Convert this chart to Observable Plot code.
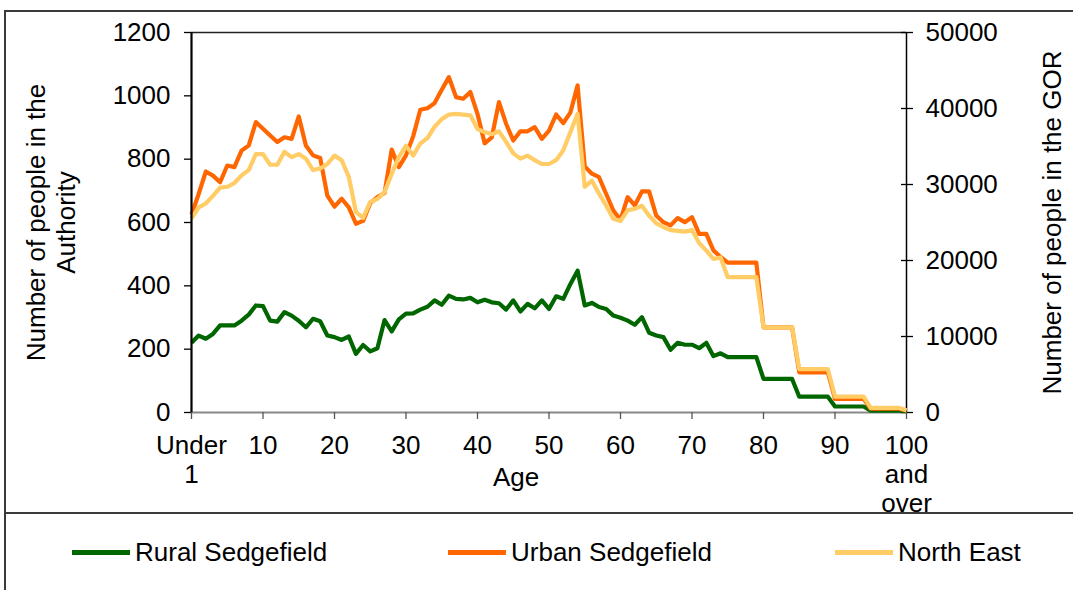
<!DOCTYPE html>
<html>
<head>
<meta charset="utf-8">
<script src="https://cdn.jsdelivr.net/npm/d3@7"></script>
<script src="https://cdn.jsdelivr.net/npm/@observablehq/plot@0.6"></script>
<style>
  html, body { margin: 0; padding: 0; background: #fff; width: 1073px; height: 590px; overflow: hidden; }
  body { font-family: "Liberation Sans", Arial, sans-serif; position: relative; }
  #chart { position: absolute; left: 0; top: 0; }
  .box { position: absolute; left: 4px; top: 10px; width: 1100px; height: 600px; border-top: 2px solid #3a3a3a; border-left: 2px solid #3a3a3a; }
  .sep { position: absolute; left: 4px; top: 512px; width: 1100px; height: 2px; background: #3a3a3a; }
  .leg { position: absolute; top: 537px; font-size: 26px; color: #000; white-space: nowrap; display: flex; align-items: center; }
  .leg span.sw { display: inline-block; width: 58px; height: 5px; margin-right: 5px; }
</style>
</head>
<body>
<div class="box"></div>
<div class="sep"></div>
<div id="chart"></div>
<div id="legend"></div>
<script>
// Ages 0..100
const ages = d3.range(0, 101);
// Rural Sedgefield (left axis, number of people in the Authority)
const rural = [220,243,233,248,275,275,275,290,309,338,336,290,287,317,306,290,269,296,288,243,
  238,229,240,185,213,193,203,292,256,294,312,313,325,334,354,340,369,359,357,362,
  348,356,348,345,325,354,319,343,329,354,327,367,359,406,448,338,346,333,327,306,
  299,290,277,301,252,243,238,198,220,214,214,203,220,178,187,175,175,175,175,175,
  106,106,106,106,106,50,50,50,50,50,19,19,19,19,19,6,6,6,6,6,4];
// Urban Sedgefield (left axis)
const urban = [625,690,761,748,727,780,775,827,843,917,896,875,854,869,864,935,843,812,804,685,
  650,675,648,596,605,661,680,693,830,775,812,872,956,961,977,1019,1059,996,991,1012,
  943,850,869,980,912,859,888,888,901,864,890,941,914,948,1033,777,754,743,690,638,
  608,680,654,698,698,622,601,591,614,601,617,564,564,512,491,473,473,473,473,473,
  269,269,269,269,269,127,127,127,127,127,43,43,43,43,43,12,12,12,12,12,6];
// North East (right axis, number of people in the GOR)
const northEast = [25500,27000,27500,28500,29600,29700,30200,31200,31900,34000,34000,32600,32600,34300,33600,34000,33400,31900,32100,32700,
  33800,33200,31000,26400,25600,27700,28100,29000,31400,33600,35100,33800,35400,36100,37600,38600,39200,39300,39200,39100,
  37300,36900,36600,37000,35600,34100,33400,33800,33200,32700,32700,33200,34500,36900,39300,29700,30500,28800,27200,25500,
  25200,26600,26800,27200,25900,24900,24400,24000,23900,23800,24000,22300,21300,20200,20400,17800,17800,17800,17800,17800,
  11200,11200,11200,11200,11200,5700,5700,5700,5700,5700,2100,2100,2100,2100,2100,600,600,600,600,600,300];

const leftTicks = [0, 200, 400, 600, 800, 1000, 1200];
const rightTicks = [0, 10000, 20000, 30000, 40000, 50000];
const xTicks = [0, 10, 20, 30, 40, 50, 60, 70, 80, 90, 100];
const xTickLabels = ["Under\n1", "10", "20", "30", "40", "50", "60", "70", "80", "90", "100\nand\nover"];

const seriesNames = ["Rural Sedgefield", "Urban Sedgefield", "North East"];
const seriesColors = ["#006600", "#FF6600", "#FFCC66"];

const leftMax = 1200, rightMax = 50000;
const toLeft = v => v * leftMax / rightMax;

const rows = [];
ages.forEach((a, i) => {
  rows.push({age: a, value: rural[i], series: seriesNames[0]});
  rows.push({age: a, value: urban[i], series: seriesNames[1]});
  rows.push({age: a, value: toLeft(northEast[i]), series: seriesNames[2]});
});

const chart = Plot.plot({
  width: 1073,
  height: 513,
  marginLeft: 191,
  marginRight: 167,
  marginTop: 32,
  marginBottom: 101,
  style: {fontFamily: "'Liberation Sans', Arial, sans-serif", fontSize: "26px", background: "transparent", overflow: "visible", color: "#000"},
  x: {domain: [0, 100]},
  y: {domain: [0, leftMax]},
  color: {domain: seriesNames, range: seriesColors},
  marks: [
    Plot.ruleY([leftMax], {stroke: "#222", strokeWidth: 1.5}),
    Plot.ruleY([0], {stroke: "#888", strokeWidth: 2}),
    Plot.ruleX([100], {stroke: "#000", strokeWidth: 1.5}),
    Plot.axisY(leftTicks, {anchor: "left", tickSize: 7, tickPadding: 14, strokeWidth: 1.3, label: null, tickFormat: d => String(d)}),
    Plot.axisY(rightTicks.map(toLeft), {anchor: "right", tickSize: 12, dx: -6, fill: "none", strokeWidth: 1.3, label: null}),
    Plot.axisY(rightTicks.map(toLeft), {anchor: "right", tickSize: 6, stroke: "none", tickPadding: 13, label: null,
      tickFormat: d => String(Math.round(d * rightMax / leftMax))}),
    Plot.axisX(xTicks, {anchor: "bottom", tickSize: 7, tickPadding: 14, stroke: "#555", strokeWidth: 1.3, label: null, lineHeight: 1.12,
      tickFormat: d => xTickLabels[xTicks.indexOf(d)]}),
    Plot.line(rows, {x: "age", y: "value", z: "series", stroke: "series", strokeWidth: 4.2, strokeLinejoin: "round", strokeLinecap: "butt"}),
    Plot.ruleX([0], {stroke: "#000", strokeWidth: 2.2}),
    Plot.text(["Number of people in the\nAuthority"], {frameAnchor: "left", textAnchor: "middle", lineAnchor: "middle", dx: -141, rotate: -90, lineHeight: 1.15, text: d => d, fill: "#000"}),
    Plot.text(["Number of people in the GOR"], {frameAnchor: "right", textAnchor: "middle", lineAnchor: "middle", dx: 146, rotate: -90, text: d => d, fill: "#000"}),
    Plot.text(["Age"], {frameAnchor: "bottom", textAnchor: "middle", lineAnchor: "middle", dx: -33, dy: 65, text: d => d, fill: "#000"})
  ]
});
document.getElementById("chart").appendChild(chart);

// Legend
const legendX = [72, 448, 835];
const legend = document.getElementById("legend");
seriesNames.forEach((name, i) => {
  const item = document.createElement("div");
  item.className = "leg";
  item.style.left = legendX[i] + "px";
  item.innerHTML = `<span class="sw" style="background:${seriesColors[i]}"></span><span>${name}</span>`;
  legend.appendChild(item);
});
</script>
</body>
</html>
